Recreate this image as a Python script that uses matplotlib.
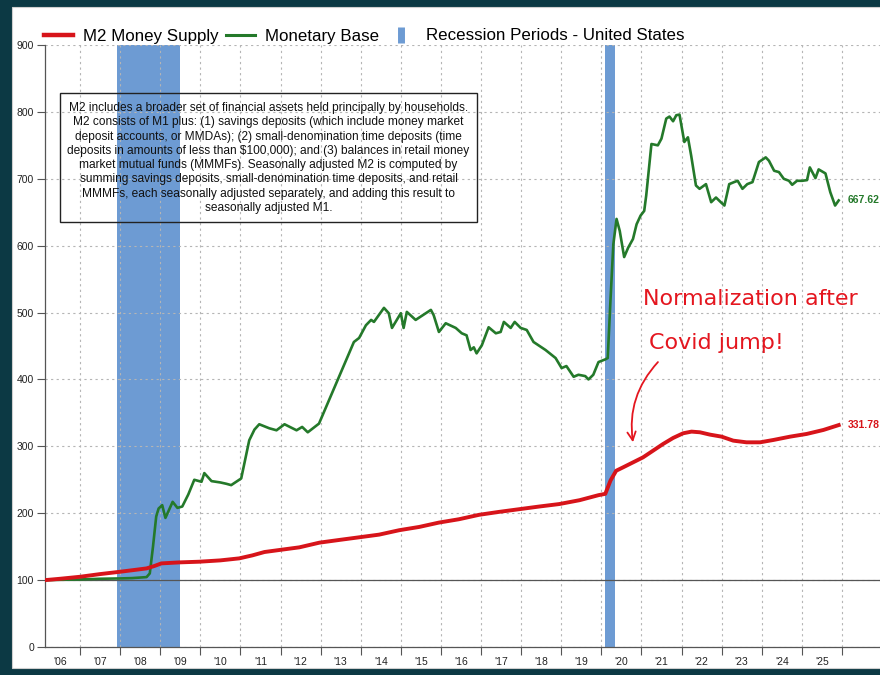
import numpy as np
import matplotlib.pyplot as plt
from matplotlib.lines import Line2D
from matplotlib.patches import Rectangle

plt.rcParams['font.family'] = ['Liberation Sans', 'DejaVu Sans']

# index values (2006 = 100), x in decimal years
m2_year = [2006.13, 2006.5, 2007.0, 2007.5, 2008.0, 2008.4, 2008.66, 2008.85, 2009.03, 2009.48,
           2009.97, 2010.5, 2010.97, 2011.3, 2011.6, 2011.97, 2012.47, 2012.97, 2013.46, 2013.96,
           2014.46, 2014.96, 2015.46, 2015.95, 2016.45, 2016.95, 2017.45, 2017.95, 2018.45, 2018.95,
           2019.46, 2019.93, 2020.1, 2020.23, 2020.37, 2020.54, 2020.79, 2021.04, 2021.29, 2021.54,
           2021.79, 2022.04, 2022.25, 2022.46, 2022.71, 2023.0, 2023.29, 2023.62, 2023.96, 2024.29,
           2024.71, 2025.12, 2025.54, 2025.92]
m2_index = [100, 102, 105, 109, 112.5, 115.5, 117.5, 121, 125, 126.5,
            127.5, 129.5, 132.5, 137, 142, 145, 149, 156, 160, 164,
            168, 174.6, 179.5, 186, 191, 197.6, 202, 206, 210, 213.7,
            219.5, 227, 229, 249, 263.5, 268.5, 276, 283.5, 293.5, 303.5,
            312.5, 319.5, 322, 321, 317.5, 314.5, 308.5, 306, 306, 309.5,
            314.5, 318.5, 324.5, 331.78]

base_year = [2006.13, 2006.5, 2007.0, 2007.5, 2008.0, 2008.3, 2008.66, 2008.74, 2008.82, 2008.9,
             2008.96, 2009.05, 2009.13, 2009.31, 2009.43, 2009.55, 2009.7, 2009.85, 2010.03, 2010.1,
             2010.28, 2010.5, 2010.65, 2010.77, 2011.02, 2011.22, 2011.35, 2011.47, 2011.72, 2011.9,
             2012.1, 2012.4, 2012.54, 2012.68, 2012.96, 2013.21, 2013.29, 2013.53, 2013.83, 2013.96,
             2014.13, 2014.26, 2014.33, 2014.58, 2014.7, 2014.78, 2015.0, 2015.07, 2015.15, 2015.37,
             2015.75, 2015.82, 2015.95, 2016.12, 2016.37, 2016.52, 2016.64, 2016.74, 2016.82, 2016.89,
             2017.02, 2017.19, 2017.37, 2017.49, 2017.57, 2017.74, 2017.84, 2017.99, 2018.14, 2018.31,
             2018.61, 2018.86, 2019.01, 2019.13, 2019.31, 2019.43, 2019.6, 2019.68, 2019.8, 2019.93,
             2020.1, 2020.16, 2020.23, 2020.3, 2020.38, 2020.46, 2020.57, 2020.67, 2020.79, 2020.88,
             2020.98, 2021.07, 2021.12, 2021.25, 2021.41, 2021.5, 2021.62, 2021.7, 2021.79, 2021.87,
             2021.95, 2022.07, 2022.16, 2022.24, 2022.36, 2022.45, 2022.61, 2022.74, 2022.86, 2022.98,
             2023.07, 2023.19, 2023.31, 2023.4, 2023.52, 2023.64, 2023.77, 2023.93, 2024.1, 2024.18,
             2024.31, 2024.43, 2024.55, 2024.68, 2024.76, 2024.88, 2025.01, 2025.13, 2025.2, 2025.34,
             2025.42, 2025.59, 2025.71, 2025.83, 2025.92]
base_index = [100, 100.5, 101, 102, 102.5, 103, 104.5, 110, 150, 195,
              207, 212, 193, 217, 208, 210, 228, 250, 247, 260,
              248, 246, 244, 242, 252, 309, 325, 333, 327, 324,
              333, 324, 329, 321, 334, 369, 380, 414, 456, 462,
              481, 489, 486, 507, 499, 477, 499, 477, 501, 489,
              504, 496, 471, 484, 477, 469, 466, 444, 448, 439,
              451, 478, 469, 471, 486, 477, 486, 477, 474, 456,
              444, 432, 417, 420, 404, 407, 405, 400, 407, 426,
              430, 432, 520, 602, 640, 622, 583, 597, 610, 632,
              645, 652, 675, 752, 750, 760, 790, 793, 786, 795,
              796, 755, 762, 735, 690, 685, 692, 665, 672, 665,
              660, 692, 695, 697, 685, 692, 695, 725, 732, 727,
              712, 710, 700, 697, 691, 697, 697, 698, 717, 701,
              714, 708, 680, 660, 667.62]

recessions = [(2007.92, 2009.5), (2020.08, 2020.33)]
label_years = np.arange(2006, 2026)
year_labels = ["'06", "'07", "'08", "'09", "'10", "'11", "'12", "'13", "'14", "'15",
               "'16", "'17", "'18", "'19", "'20", "'21", "'22", "'23", "'24", "'25"]

note = ("M2 includes a broader set of financial assets held principally by households.\n"
        "M2 consists of M1 plus: (1) savings deposits (which include money market\n"
        "deposit accounts, or MMDAs); (2) small-denomination time deposits (time\n"
        "deposits in amounts of less than $100,000); and (3) balances in retail money\n"
        "market mutual funds (MMMFs). Seasonally adjusted M2 is computed by\n"
        "summing savings deposits, small-denomination time deposits, and retail\n"
        "MMMFs, each seasonally adjusted separately, and adding this result to\n"
        "seasonally adjusted M1.")

red = '#d7141a'
green = '#24792a'
blue = '#6d9bd3'

fig = plt.figure(figsize=(8.8, 6.75), dpi=100)
fig.patch.set_facecolor('#0c3944')
fig.patches.append(Rectangle((12 / 880, 1 - 668 / 675), 1, (668 - 7) / 675,
                             transform=fig.transFigure, facecolor='white',
                             edgecolor='#cfcfcf', lw=0.8, zorder=-5))

ax = fig.add_axes([45 / 880, 1 - 647 / 675, 835 / 880, 602 / 675])
ax.set_facecolor('none')
ax.set_xlim(2006.127, 2026.95)
ax.set_ylim(0, 900)

for start, end in recessions:
    ax.axvspan(start, end, color=blue, lw=0, zorder=1)

ax.set_yticks(np.arange(0, 1000, 100))
ax.set_xticks(np.arange(2007, 2027))
ax.set_xticklabels([])
ax.set_xticks(label_years + 0.5, minor=True)
ax.set_xticklabels(year_labels, minor=True)
ax.grid(True, which='major', ls=(0, (2, 3)), color='#b5b5b5', lw=0.8, zorder=0)
ax.tick_params(axis='x', which='major', length=6, color='#555555', width=0.8)
ax.tick_params(axis='x', which='minor', length=0, pad=7, labelsize=7.5, labelcolor='#222222')
ax.tick_params(axis='y', length=6, color='#555555', width=0.8, pad=2,
               labelsize=7.5, labelcolor='#222222')
for side in ['top', 'right']:
    ax.spines[side].set_visible(False)
for side in ['left', 'bottom']:
    ax.spines[side].set_color('#555555')
    ax.spines[side].set_linewidth(0.9)

ax.axhline(100, color='#555555', lw=0.9, zorder=2)

ax.plot(base_year, base_index, color=green, lw=1.9, zorder=4)
ax.plot(m2_year, m2_index, color=red, lw=2.8, zorder=5)

ax.text(2026.15, base_index[-1], f'{base_index[-1]:.2f}', color=green, fontsize=7.5,
        fontweight='bold', va='center', ha='left')
ax.text(2026.15, m2_index[-1], f'{m2_index[-1]:.2f}', color=red, fontsize=7.5,
        fontweight='bold', va='center', ha='left')

# description box
fig.patches.append(Rectangle((60 / 880, 1 - 222 / 675), 417 / 880, 129 / 675,
                             transform=fig.transFigure, facecolor='none',
                             edgecolor='#222222', lw=1.0, zorder=6))
fig.text(268.5 / 880, 1 - 158 / 675, note, ha='center', va='center', fontsize=8.6,
         linespacing=1.25, color='#111111', zorder=7)

# handwritten remark
hand = dict(color='#e4161f', fontsize=16, family=['DejaVu Sans'])
ax.text(2021.04, 520, 'Normalization after', ha='left', va='center', **hand)
ax.text(2021.2, 455, 'Covid jump!', ha='left', va='center', **hand)
ax.annotate('', xy=(2020.8, 302), xytext=(2021.46, 429),
            arrowprops=dict(arrowstyle='->,head_length=0.6,head_width=0.3', color='#e4161f',
                            lw=1.3, connectionstyle='arc3,rad=0.25'))

handles = [Line2D([], [], color=red, lw=3.2),
           Line2D([], [], color=green, lw=2.2),
           Line2D([], [], color=blue, marker='|', markersize=12, markeredgewidth=5, ls='none')]
fig.legend(handles, ['M2 Money Supply', 'Monetary Base', 'Recession Periods - United States'],
           loc='center left', bbox_to_anchor=(44 / 880, 1 - 36 / 675), ncol=3, frameon=False,
           borderpad=0, borderaxespad=0, handlelength=1.7, handletextpad=0.6,
           columnspacing=0.45, fontsize=12.2)

fig.savefig('out.png', dpi=100, facecolor=fig.get_facecolor())
